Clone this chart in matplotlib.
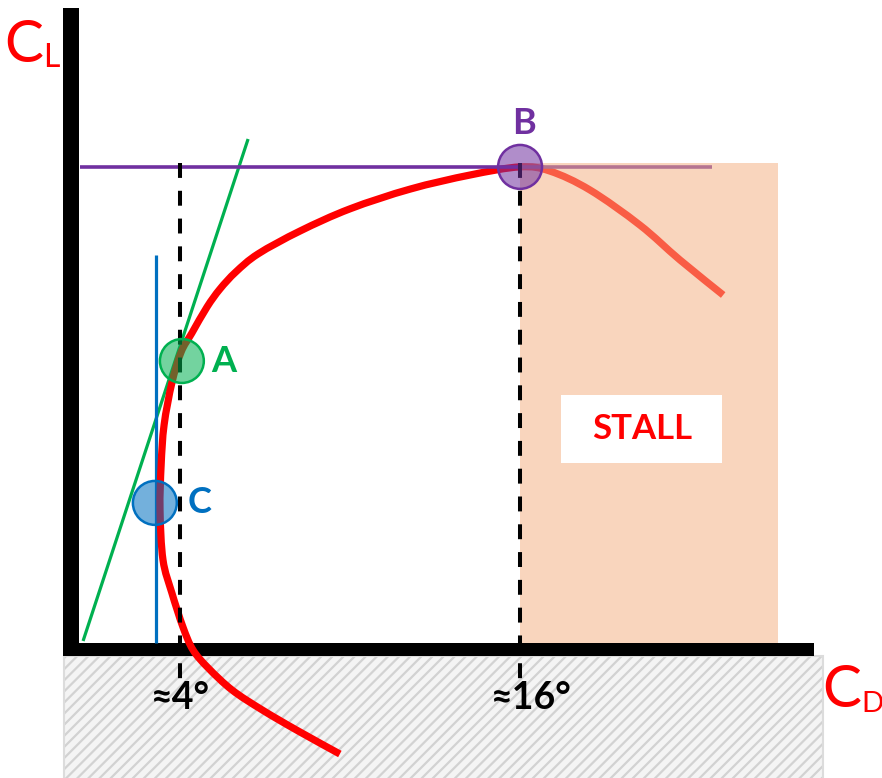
import matplotlib
matplotlib.use("Agg")
import matplotlib.pyplot as plt
from matplotlib.patches import Rectangle, PathPatch
from matplotlib.path import Path
import numpy as np

plt.rcParams['font.family'] = ['Lato', 'DejaVu Sans']
plt.rcParams['hatch.linewidth'] = 1.6

# Drag polar: lift coefficient against drag coefficient (schematic units)
polar_cd = [0.0705, 0.0592, 0.0495, 0.0414, 0.0349, 0.0308, 0.0281, 0.0251,
            0.0227, 0.0219, 0.0222, 0.0230, 0.0251, 0.0276, 0.0305, 0.0346,
            0.0381, 0.0424, 0.0484, 0.0597, 0.0732, 0.0895, 0.1057, 0.1192]
polar_cl = [-0.370, -0.293, -0.223, -0.157, -0.083, -0.023, 0.053, 0.167,
            0.277, 0.443, 0.593, 0.727, 0.867, 0.970, 1.033, 1.120,
            1.180, 1.237, 1.297, 1.373, 1.447, 1.513, 1.560, 1.587]
# Post-stall branch
stall_cd = [0.1192, 0.1273, 0.1381, 0.1516, 0.1624, 0.1741]
stall_cl = [1.587, 1.573, 1.510, 1.393, 1.277, 1.160]

# Marked points
point_names = ['A', 'B', 'C']
point_cd = [0.0278, 0.1192, 0.0205]
point_cl = [0.940, 1.587, 0.467]
point_colors = ['#00B050', '#7030A0', '#0070C0']

# Tangent from origin (max L/D) and minimum-drag line
tangent_cd = [0.0011, 0.0457]
tangent_cl = [0.0067, 1.680]
min_drag_cd = 0.0208
min_drag_cl_top = 1.293

# Angle-of-attack references
aoa_cd = [0.0273, 0.1192]
aoa_labels = ['≈4°', '≈16°']
aoa_label_dx = [0, 10]

stall_cd_end = 0.1889
cl_max_line_end = 0.1711


def smooth_path(xs, ys):
    """Catmull-Rom curve through the given points, as cubic Bezier segments."""
    p = np.column_stack([xs, ys])
    ext = np.vstack([p[0], p, p[-1]])
    verts = [p[0]]
    codes = [Path.MOVETO]
    for i in range(1, len(ext) - 2):
        p0, p1, p2, p3 = ext[i - 1], ext[i], ext[i + 1], ext[i + 2]
        verts += [p1 + (p2 - p0) / 6, p2 - (p3 - p1) / 6, p2]
        codes += [Path.CURVE4] * 3
    return Path(verts, codes)


W, H = 882, 778
fig = plt.figure(figsize=(W / 100, H / 100), dpi=100)
ax = fig.add_axes([0, 0, 1, 1])
ax.set_xlim(-79 / 3700, 803 / 3700)
ax.set_ylim(-135 / 300, 643 / 300)
ax.axis('off')

# Hatched region below the drag axis
ax.add_patch(Rectangle((-0.00405, -0.46), 0.20513, 0.4167, facecolor='#f4f4f4',
                       edgecolor='#d2d2d2', hatch='///', linewidth=0, zorder=1))
ax.add_patch(Rectangle((-0.00405, -0.46), 0.20513, 0.4167, facecolor='none',
                       edgecolor='#dcdcdc', linewidth=1.5, zorder=1.1))

# Thick axes
ax.add_patch(Rectangle((-0.00432, -0.0433), 0.00432, 2.16, facecolor='black',
                       edgecolor='none', zorder=2))
ax.add_patch(Rectangle((-0.00432, -0.0433), 0.20297, 0.0433, facecolor='black',
                       edgecolor='none', zorder=2))

# Tangent and minimum-drag lines
ax.plot(tangent_cd, tangent_cl, color='#00B050', lw=2.3, zorder=3,
        solid_capstyle='butt')
ax.plot([min_drag_cd, min_drag_cd], [0, min_drag_cl_top], color='#0070C0',
        lw=2.3, zorder=3, solid_capstyle='butt')

# Polar curve
curve = smooth_path(polar_cd + stall_cd[1:], polar_cl + stall_cl[1:])
ax.add_patch(PathPatch(curve, facecolor='none', edgecolor='red', lw=5.2,
                       capstyle='butt', joinstyle='round', zorder=4))

# CL max line
ax.plot([0.0003, cl_max_line_end], [point_cl[1], point_cl[1]], color='#7030A0',
        lw=2.6, zorder=4.5, solid_capstyle='butt')

# Stall region
ax.add_patch(Rectangle((point_cd[1], 0), stall_cd_end - point_cd[1], 1.6,
                       facecolor='#F4B183', alpha=0.53, edgecolor='none', zorder=5))
ax.add_patch(Rectangle((0.1303, 0.600), 0.0435, 0.2267, facecolor='white',
                       edgecolor='none', zorder=5.5))
ax.text(0.1522, 0.712, 'STALL', color='red', fontsize=25, fontweight='bold',
        ha='center', va='center', zorder=6)

# Dashed angle-of-attack lines and labels
for cd, lab, dx in zip(aoa_cd, aoa_labels, aoa_label_dx):
    ax.plot([cd, cd], [1.60, -0.13], color='black', lw=2.9, zorder=6,
            dashes=(3.7, 3.2), solid_capstyle='butt', dash_capstyle='butt')
    ax.annotate(lab, (cd, 0), xytext=(dx, -55), textcoords='offset pixels',
                ha='center', va='center', fontsize=27, fontweight='bold',
                color='black', zorder=7)

# Marked points
label_offsets = [(42, 0), (4, 43), (45, 0)]
for name, cd, cl, c, off in zip(point_names, point_cd, point_cl, point_colors,
                                label_offsets):
    ax.scatter([cd], [cl], s=1000, color=c, alpha=0.55, edgecolors='none',
               zorder=8)
    ax.scatter([cd], [cl], s=1000, facecolors='none', edgecolors=c,
               linewidths=1.8, zorder=8.5)
    ax.annotate(name, (cd, cl), xytext=off, textcoords='offset pixels',
                ha='center', va='center', fontsize=26, fontweight='bold',
                color=c, zorder=9)

# Axis titles
fig.text(24 / W, 1 - 62 / H, 'C', color='red', fontsize=42, ha='center',
         va='baseline')
fig.text(43 / W, 1 - 67 / H, 'L', color='red', fontsize=23, ha='left',
         va='baseline')
fig.text(842 / W, 1 - 707 / H, 'C', color='red', fontsize=42, ha='center',
         va='baseline')
fig.text(861 / W, 1 - 712 / H, 'D', color='red', fontsize=21, ha='left',
         va='baseline')

fig.savefig('out.png', dpi=100)
